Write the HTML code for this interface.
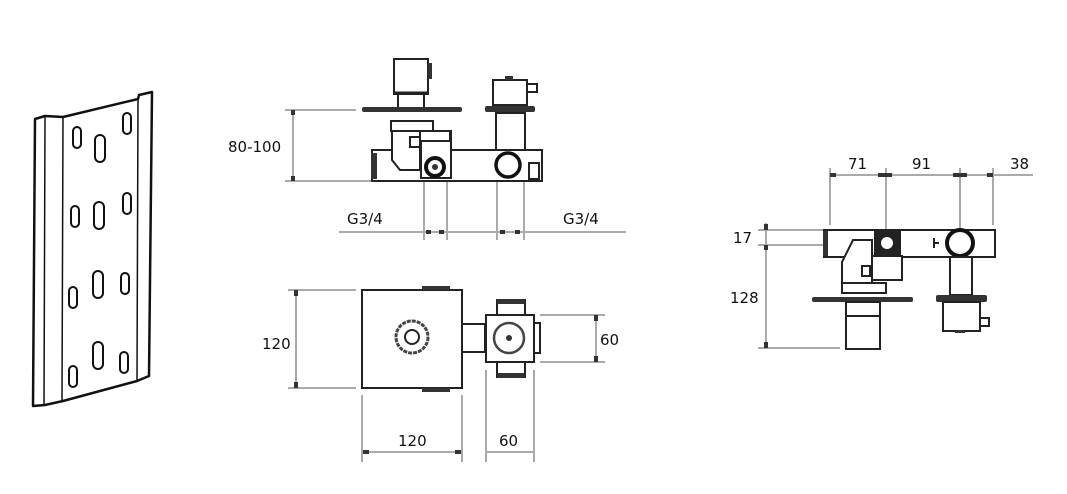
<!DOCTYPE html>
<html><head><meta charset="utf-8"><style>
html,body{margin:0;padding:0;background:#fff}
svg{display:block}
text{font-family:"DejaVu Sans","Liberation Sans",sans-serif;font-size:15px;fill:#111}
.d{stroke:#aaa;stroke-width:2;fill:none}
.k{stroke:#222;stroke-width:2;fill:none}
.kf{stroke:#222;stroke-width:2;fill:#fff}
.b{fill:#333}
</style></head><body>
<svg width="1067" height="494" viewBox="0 0 1067 494">
<!-- plate -->
<g stroke="#111" stroke-width="2.5" fill="#fff" stroke-linejoin="round">
<path d="M35,119 L45,116 L63,117 L138,99 L139,95 L152,92 L149,376 L137,381 L63,401 L45,405 L33,406 Z"/>
<path d="M45,116 L44,405 M63,117 L62,401 M138,99 L137,381" fill="none" stroke-width="1.5"/>
<g stroke-width="2">
<rect x="73" y="127" width="8" height="21" rx="4"/>
<rect x="95" y="135" width="10" height="27" rx="5"/>
<rect x="123" y="113" width="8" height="21" rx="4"/>
<rect x="71" y="206" width="8" height="21" rx="4"/>
<rect x="94" y="202" width="10" height="27" rx="5"/>
<rect x="123" y="193" width="8" height="21" rx="4"/>
<rect x="69" y="287" width="8" height="21" rx="4"/>
<rect x="93" y="271" width="10" height="27" rx="5"/>
<rect x="121" y="273" width="8" height="21" rx="4"/>
<rect x="69" y="366" width="8" height="21" rx="4"/>
<rect x="93" y="342" width="10" height="27" rx="5"/>
<rect x="120" y="352" width="8" height="21" rx="4"/>
</g></g>

<!-- front view -->
<path class="d" d="M285,110 H356 M285,181 H372 M293,110 V181"/>
<rect x="291" y="110" width="4" height="5" class="b"/><rect x="291" y="176" width="4" height="5" class="b"/>
<text x="228" y="152">80-100</text>
<rect x="372" y="150" width="170" height="31" class="kf"/>
<rect x="371" y="153" width="6" height="26" class="b"/>
<rect x="394" y="59" width="34" height="35" class="kf"/>
<rect x="428" y="63" width="4" height="16" class="b"/>
<line x1="394" y1="93" x2="428" y2="93" stroke="#222" stroke-width="3"/>
<rect x="398" y="94" width="26" height="14" class="kf"/>
<rect x="362" y="107" width="100" height="5" class="b" rx="2"/>
<rect x="391" y="121" width="42" height="10" class="kf"/>
<path class="kf" d="M392,131 H420 V170 H400 L392,160 Z"/>
<rect x="421" y="131" width="30" height="47" class="kf"/>
<rect x="420" y="131" width="30" height="10" class="kf"/>
<rect x="410" y="137" width="10" height="10" class="kf"/>
<circle cx="435" cy="167" r="9" stroke="#111" stroke-width="4" fill="#fff"/>
<circle cx="435" cy="167" r="3" class="b"/>
<rect x="493" y="80" width="34" height="25" class="kf"/>
<path class="k" d="M527,84 H537 V92 H527"/>
<rect x="505" y="76" width="8" height="4" class="b"/>
<rect x="485" y="106" width="50" height="6" class="b" rx="2"/>
<rect x="496" y="113" width="29" height="37" class="kf"/>
<circle cx="508" cy="165" r="12" stroke="#111" stroke-width="3.5" fill="#fff"/>
<rect x="529" y="163" width="10" height="16" class="k"/>
<path class="d" d="M339,232 H626 M424,182 V240 M447,182 V240 M497,182 V240 M524,182 V240"/>
<rect x="426" y="230" width="5" height="4" class="b"/><rect x="439" y="230" width="5" height="4" class="b"/>
<rect x="500" y="230" width="5" height="4" class="b"/><rect x="515" y="230" width="5" height="4" class="b"/>
<text x="347" y="224">G3/4</text>
<text x="563" y="224">G3/4</text>

<!-- top view -->
<path class="d" d="M288,290 H356 M288,388 H356 M296,290 V388"/>
<rect x="294" y="290" width="4" height="6" class="b"/><rect x="294" y="382" width="4" height="6" class="b"/>
<text x="262" y="349">120</text>
<rect x="362" y="290" width="100" height="98" class="k" stroke-width="2.5"/>
<rect x="422" y="286" width="28" height="4" class="b"/>
<rect x="422" y="388" width="28" height="4" class="b"/>
<circle cx="412" cy="337" r="16" stroke="#444" stroke-width="3" fill="#fff" stroke-dasharray="4 1"/>
<circle cx="412" cy="337" r="7" class="k"/>
<rect x="462" y="324" width="23" height="28" class="kf"/>
<rect x="497" y="300" width="28" height="15" class="kf"/>
<rect x="497" y="299" width="28" height="5" class="b"/>
<rect x="497" y="362" width="28" height="15" class="kf"/>
<rect x="497" y="373" width="28" height="5" class="b"/>
<rect x="486" y="315" width="48" height="47" class="kf" stroke-width="2.5"/>
<rect x="534" y="323" width="6" height="30" class="kf"/>
<circle cx="509" cy="338" r="15" stroke="#444" stroke-width="2.5" fill="#fff"/>
<circle cx="509" cy="338" r="3" class="b"/>
<path class="d" d="M540,315 H605 M540,362 H605 M596,315 V362"/>
<rect x="594" y="315" width="4" height="6" class="b"/><rect x="594" y="356" width="4" height="6" class="b"/>
<text x="600" y="345">60</text>
<path class="d" d="M362,395 V462 M462,395 V462 M486,370 V462 M534,370 V462 M362,452 H462 M486,452 H534"/>
<rect x="363" y="450" width="6" height="4" class="b"/><rect x="455" y="450" width="6" height="4" class="b"/>
<text x="398" y="446">120</text>
<text x="499" y="446">60</text>

<!-- side view -->
<path class="d" d="M830,175 H1033 M830,168 V225 M886,168 V232 M960,168 V232 M993,168 V225"/>
<rect x="830" y="173" width="6" height="4" class="b"/><rect x="878" y="173" width="14" height="4" class="b"/>
<rect x="953" y="173" width="14" height="4" class="b"/><rect x="987" y="173" width="6" height="4" class="b"/>
<text x="848" y="169">71</text><text x="912" y="169">91</text><text x="1010" y="169">38</text>
<path class="d" d="M758,230 H823 M758,245 H823 M758,348 H840 M766,223 V348"/>
<rect x="764" y="224" width="4" height="6" class="b"/><rect x="764" y="245" width="4" height="5" class="b"/><rect x="764" y="342" width="4" height="6" class="b"/>
<text x="733" y="243">17</text><text x="730" y="303">128</text>
<rect x="824" y="230" width="171" height="27" class="kf"/>
<rect x="823" y="231" width="5" height="25" class="b"/>
<path class="kf" d="M853,240 H872 V285 H842 V262 Z"/>
<rect x="862" y="266" width="8" height="10" class="kf"/>
<rect x="872" y="256" width="30" height="24" class="kf"/>
<rect x="874" y="230" width="27" height="27" fill="#222"/>
<circle cx="887" cy="243" r="7" fill="#fff" stroke="#222" stroke-width="2"/>
<rect x="842" y="283" width="44" height="10" class="kf"/>
<rect x="812" y="297" width="101" height="5" class="b" rx="2"/>
<rect x="846" y="302" width="34" height="47" class="kf"/>
<line x1="846" y1="316" x2="880" y2="316" stroke="#222" stroke-width="2"/>
<path class="k" d="M934,238 V248 M934,243 H939"/>
<circle cx="960" cy="243" r="13" stroke="#111" stroke-width="4" fill="#fff"/>
<rect x="950" y="257" width="22" height="38" class="kf"/>
<rect x="936" y="295" width="51" height="7" class="b" rx="2"/>
<rect x="943" y="302" width="37" height="29" class="kf"/>
<rect x="980" y="318" width="9" height="8" class="k"/>
<rect x="955" y="330" width="10" height="3" class="b"/>
</svg>
</body></html>
